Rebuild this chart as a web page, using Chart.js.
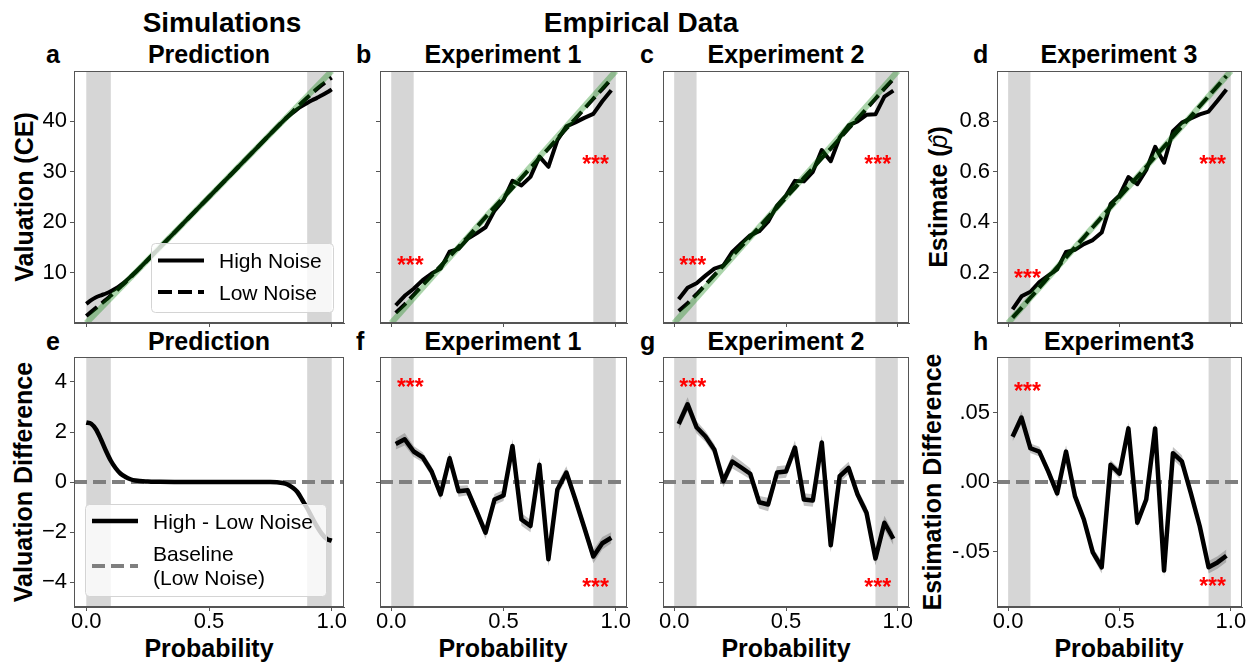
<!DOCTYPE html>
<html>
<head>
<meta charset="utf-8">
<script src="https://cdn.jsdelivr.net/npm/chart.js@4.4.1/dist/chart.umd.min.js"></script>
<style>
  html,body{margin:0;padding:0;background:#fff;}
  #root{position:relative;width:1256px;height:664px;overflow:hidden;background:#fff;}
  canvas{position:absolute;}
  .t{position:absolute;line-height:1;white-space:nowrap;font-family:'Liberation Sans',Arial,Helvetica,sans-serif;font-weight:bold;color:#000;}
  .c{transform:translateX(-50%);}
  .r{transform:translate(-50%,-50%) rotate(-90deg);}
</style>
</head>
<body>
<div id="root">
  <div class="t c" style="left:222px;top:9px;font-size:28px;">Simulations</div>
  <div class="t c" style="left:641px;top:9px;font-size:28px;">Empirical Data</div>

  <div class="t c" style="left:209px;top:42px;font-size:25px;">Prediction</div>
  <div class="t c" style="left:503px;top:42px;font-size:25px;">Experiment 1</div>
  <div class="t c" style="left:786px;top:42px;font-size:25px;">Experiment 2</div>
  <div class="t c" style="left:1119px;top:42px;font-size:25px;">Experiment 3</div>
  <div class="t" style="left:46px;top:42px;font-size:25px;">a</div>
  <div class="t" style="left:356px;top:42px;font-size:25px;">b</div>
  <div class="t" style="left:640px;top:42px;font-size:25px;">c</div>
  <div class="t" style="left:973px;top:42px;font-size:25px;">d</div>

  <div class="t c" style="left:209px;top:329px;font-size:25px;">Prediction</div>
  <div class="t c" style="left:503px;top:329px;font-size:25px;">Experiment 1</div>
  <div class="t c" style="left:786px;top:329px;font-size:25px;">Experiment 2</div>
  <div class="t c" style="left:1119px;top:329px;font-size:25px;">Experiment3</div>
  <div class="t" style="left:46px;top:329px;font-size:25px;">e</div>
  <div class="t" style="left:356px;top:329px;font-size:25px;">f</div>
  <div class="t" style="left:640px;top:329px;font-size:25px;">g</div>
  <div class="t" style="left:973px;top:329px;font-size:25px;">h</div>

  <div class="t r" style="left:24px;top:197px;font-size:25px;">Valuation (CE)</div>
  <div class="t r" style="left:938px;top:197px;font-size:25px;">Estimate (<span style="font-style:italic;font-weight:normal;">p&#x0302;</span>)</div>
  <div class="t r" style="left:23px;top:482px;font-size:25px;">Valuation Difference</div>
  <div class="t r" style="left:932px;top:482px;font-size:25px;">Estimation Difference</div>

  <div class="t c" style="left:209px;top:636px;font-size:25px;">Probability</div>
  <div class="t c" style="left:503px;top:636px;font-size:25px;">Probability</div>
  <div class="t c" style="left:786px;top:636px;font-size:25px;">Probability</div>
  <div class="t c" style="left:1119px;top:636px;font-size:25px;">Probability</div>
</div>
<script>
// ---------------- DATA ----------------
const probs = [0.02,0.06,0.10,0.14,0.18,0.22,0.26,0.30,0.34,0.38,0.42,0.46,0.50,0.54,0.58,0.62,0.66,0.70,0.74,0.78,0.82,0.86,0.90,0.94,0.98];

const xTicks = [0, 0.5, 1];
const xTickLabels = ['0.0', '0.5', '1.0'];
const ceTicks = [10, 20, 30, 40];
const ceTickLabels = ['10', '20', '30', '40'];
const estTicks = [0.2, 0.4, 0.6, 0.8];
const estTickLabels = ['0.2', '0.4', '0.6', '0.8'];
const diffTicks = [4, 2, 0, -2, -4];
const diffTickLabels = ['4', '2', '0', '\u22122', '\u22124'];
const estDiffTicks = [0.05, 0, -0.05];
const estDiffTickLabels = ['.05', '.00', '-.05'];

const shadeRanges = [[0, 0.1], [0.9, 1.0]];

// Simulation (panel a, e)
const simX = [0,0.02,0.04,0.06,0.08,0.10,0.12,0.14,0.16,0.18,0.20,0.30,0.40,0.50,0.60,0.70,0.80,0.82,0.84,0.86,0.88,0.90,0.92,0.94,0.96,0.98,1.0];
const simLowNoise  = [1.4,2.2,3.0,3.8,4.6,5.45,6.3,7.2,8.1,9.05,10.0,15.0,20.0,25.0,30.0,35.0,40.0,40.95,41.9,42.85,43.8,44.7,45.6,46.45,47.25,48.0,48.7];
const simHighNoise = [3.78,4.53,5.1,5.5,5.85,6.3,6.85,7.53,8.3,9.16,10.06,15.01,20.0,25.0,30.0,35.0,39.96,40.85,41.68,42.45,43.08,43.65,44.18,44.67,45.17,45.72,46.35];
const simDiffX = [0,0.02,0.04,0.06,0.08,0.10,0.12,0.14,0.16,0.18,0.20,0.25,0.30,0.40,0.50,0.60,0.70,0.75,0.80,0.82,0.84,0.86,0.88,0.90,0.92,0.94,0.96,0.98,1.0];
const simDiff  = [2.38,2.33,2.1,1.7,1.25,0.85,0.55,0.33,0.2,0.11,0.06,0.02,0.01,0,0,0,0,0,-0.04,-0.1,-0.22,-0.4,-0.72,-1.05,-1.42,-1.78,-2.08,-2.28,-2.35];

// Experiments (panels b, c, d)
const exp1Low  = [2.0,3.7,5.6,7.5,9.4,11.3,13.2,15.1,17.0,19.0,21.0,23.0,24.9,26.8,28.8,30.8,32.7,34.6,36.6,38.6,40.5,42.5,44.5,46.4,48.4];
const exp1High = [3.5,5.4,6.8,8.5,9.8,10.8,14.15,14.7,16.7,17.8,19.0,22.3,24.4,28.2,27.3,29.0,33.0,31.0,36.3,39.0,39.8,40.7,41.5,44.0,46.2];
const exp2Low  = [2.4,3.9,5.7,7.6,9.5,11.4,13.3,15.2,17.1,19.0,21.0,22.9,24.9,26.8,28.8,30.7,32.7,34.6,36.6,38.6,40.5,42.5,44.5,46.5,48.4];
const exp2High = [4.7,7.0,7.9,9.4,10.8,11.4,14.1,15.8,17.4,18.2,20.1,23.3,25.3,28.2,28.1,30.0,34.3,32.1,36.8,39.2,40.0,41.3,41.4,44.9,46.1];
const exp3Low  = [0.021,0.060,0.100,0.140,0.181,0.221,0.260,0.300,0.340,0.380,0.420,0.460,0.500,0.540,0.580,0.620,0.660,0.700,0.740,0.780,0.820,0.860,0.900,0.940,0.980];
const exp3High = [0.054,0.106,0.124,0.162,0.188,0.213,0.282,0.290,0.313,0.329,0.359,0.472,0.506,0.579,0.551,0.607,0.699,0.636,0.761,0.795,0.812,0.828,0.839,0.882,0.927];

// Differences (panels f, g, h) and their standard errors
const exp1Diff = [1.52,1.71,1.22,0.99,0.42,-0.5,0.95,-0.37,-0.33,-1.17,-2.03,-0.70,-0.54,1.44,-1.50,-1.76,0.69,-3.09,-0.30,0.38,-0.70,-1.83,-2.98,-2.45,-2.23];
const exp1Sem  = [0.22,0.25,0.22,0.2,0.2,0.22,0.25,0.22,0.2,0.22,0.25,0.22,0.22,0.27,0.25,0.25,0.28,0.28,0.25,0.25,0.22,0.25,0.27,0.25,0.22];
const exp2Diff = [2.32,3.11,2.19,1.82,1.29,0.03,0.82,0.58,0.33,-0.81,-0.90,0.38,0.42,1.38,-0.70,-0.74,1.58,-2.53,0.23,0.56,-0.50,-1.23,-3.06,-1.63,-2.27];
const exp2Sem  = [0.24,0.28,0.25,0.22,0.22,0.24,0.28,0.25,0.22,0.25,0.27,0.25,0.25,0.28,0.25,0.25,0.29,0.29,0.25,0.25,0.22,0.25,0.28,0.28,0.25];
const exp3Diff = [0.0326,0.0464,0.0243,0.0219,0.0076,-0.0083,0.0219,-0.0102,-0.027,-0.0507,-0.0614,0.0124,0.006,0.0386,-0.0293,-0.0126,0.0386,-0.0638,0.0207,0.0148,-0.0079,-0.0317,-0.0614,-0.0579,-0.0531];
const exp3Sem  = [0.0035,0.0045,0.0035,0.0035,0.0035,0.0035,0.0045,0.0035,0.0035,0.0035,0.0045,0.0035,0.0035,0.0045,0.0035,0.0035,0.0045,0.0045,0.0045,0.0045,0.0035,0.0035,0.0045,0.0045,0.0045];

// Identity (reference) lines and zero baseline
const identityX = [0, 1];
const identityCE = [0, 50];
const identityP = [0, 1];
const baselineX = [-0.05, 1.05];
const baselineY = [0, 0];

// Significance markers [x, y]
const starsExp1Top = [[0.085, 12.5], [0.91, 32.5]];
const starsExp2Top = [[0.083, 12.5], [0.91, 32.5]];
const starsExp3Top = [[0.087, 0.2], [0.918, 0.65]];
const starsExp1Diff = [[0.085, 4.0], [0.91, -4.0]];
const starsExp2Diff = [[0.083, 4.0], [0.91, -4.0]];
const starsExp3Diff = [[0.087, 0.0695], [0.918, -0.071]];
const starText = '***';

const simLegendLabels = ['High Noise', 'Low Noise'];
const diffLegendLabels = ['High - Low Noise', 'Baseline', '(Low Noise)'];

// ---------------- RENDERING ----------------
const FONT = "'Liberation Sans', Arial, Helvetica, sans-serif";
Chart.defaults.font.family = FONT;
Chart.defaults.animation = false;

const SPINE = '#555555';
const GREEN = 'rgba(0,128,0,0.33)';
const SHADE = '#d6d6d6';
const BASEGREY = '#7f7f7f';

function pts(xs, ys) { return xs.map((x, i) => ({x: x, y: ys[i]})); }
function line(data, color, width, dash, extra) {
  return Object.assign({data, borderColor: color, backgroundColor: color, borderWidth: width,
    borderDash: dash || [], pointRadius: 0, pointHoverRadius: 0, showLine: true, fill: false,
    tension: 0, clip: 0, borderJoinStyle: 'round', borderCapStyle: 'butt'}, extra || {});
}

const deco = {
  id: 'deco',
  beforeDatasetsDraw(chart) {
    const a = chart.chartArea; const ctx = chart.ctx; const xs = chart.scales.x;
    ctx.save();
    ctx.fillStyle = SHADE;
    shadeRanges.forEach(r => {
      const x0 = xs.getPixelForValue(r[0]), x1 = xs.getPixelForValue(r[1]);
      ctx.fillRect(x0, a.top, x1 - x0, a.bottom - a.top);
    });
    ctx.restore();
  },
  afterDatasetsDraw(chart) {
    const o = chart.options.plugins.deco; const a = chart.chartArea; const ctx = chart.ctx;
    const xs = chart.scales.x, ys = chart.scales.y;
    ctx.save();
    if (o.stars) {
      ctx.fillStyle = '#ff0000';
      ctx.font = 'bold 23px ' + FONT;
      ctx.textAlign = 'center';
      ctx.textBaseline = 'alphabetic';
      o.stars.forEach(s => {
        ctx.fillText(starText, xs.getPixelForValue(s[0]), ys.getPixelForValue(s[1]) + 0.575 * 23);
      });
    }
    ctx.strokeStyle = SPINE; ctx.lineWidth = 1;
    ctx.strokeRect(Math.round(a.left) + 0.5, Math.round(a.top) + 0.5, Math.round(a.right - a.left) - 1, Math.round(a.bottom - a.top) - 1);
    const lg = o.legend;
    if (lg) {
      const x0 = lg.anchor === 'right' ? a.right - lg.offX - lg.w : a.left + lg.offX;
      const y0 = a.bottom - lg.offY - lg.h;
      ctx.beginPath();
      ctx.roundRect(x0 + 0.5, y0 + 0.5, lg.w, lg.h, 4);
      ctx.fillStyle = 'rgba(255,255,255,0.8)'; ctx.fill();
      ctx.strokeStyle = '#d4d4d4'; ctx.lineWidth = 1; ctx.stroke();
      ctx.font = '21px ' + FONT; ctx.fillStyle = '#000'; ctx.textAlign = 'left'; ctx.textBaseline = 'alphabetic';
      lg.items.forEach(it => {
        ctx.beginPath();
        ctx.setLineDash(it.dash || []);
        ctx.strokeStyle = it.color; ctx.lineWidth = it.width; ctx.lineCap = 'butt';
        ctx.moveTo(x0 + 7, y0 + it.y); ctx.lineTo(x0 + 53, y0 + it.y); ctx.stroke();
        ctx.setLineDash([]);
        ctx.fillStyle = '#000';
        it.texts.forEach(t => ctx.fillText(t[0], x0 + 68, y0 + t[1] + 7.5));
      });
    }
    ctx.restore();
  }
};

function panel(opt) {
  const [L, R] = opt.cols, [T, B] = opt.rows;
  const yW = 70, padT = 16, padR = 20, padB = 16, xH = opt.xH;
  const w = (R - L) + yW + padR, h = (B - T) + padT + xH + padB;
  const c = document.createElement('canvas');
  c.width = w; c.height = h;
  c.style.left = (L - yW) + 'px'; c.style.top = (T - padT) + 'px';
  c.style.width = w + 'px'; c.style.height = h + 'px';
  document.getElementById('root').appendChild(c);
  const tickFont = {family: FONT, size: 22, lineHeight: 1};
  new Chart(c, {
    type: 'scatter',
    data: {datasets: opt.datasets},
    plugins: [deco],
    options: {
      responsive: false, devicePixelRatio: 1, animation: false,
      layout: {padding: {top: padT, right: padR, left: 0, bottom: padB}},
      plugins: {legend: {display: false}, tooltip: {enabled: false},
        deco: {stars: opt.stars, legend: opt.legend}},
      events: [],
      scales: {
        x: {
          type: 'linear', min: -0.05, max: 1.05,
          afterBuildTicks: s => { s.ticks = xTicks.map(v => ({value: v})); },
          afterFit: s => { s.height = xH; },
          ticks: {display: opt.showX, callback: (v, i) => xTickLabels[i], font: tickFont, color: '#000', padding: 0, maxRotation: 0, autoSkip: false},
          grid: {display: true, drawOnChartArea: false, drawTicks: true, tickLength: 4, color: SPINE, lineWidth: 1},
          border: {display: true, color: SPINE, width: 1}
        },
        y: {
          type: 'linear', min: opt.yMin, max: opt.yMax,
          afterBuildTicks: s => { s.ticks = opt.yTicks.map(v => ({value: v})); },
          afterFit: s => { s.width = yW; },
          ticks: {display: opt.showY, callback: (v, i) => opt.yLabels[i], font: tickFont, color: '#000', padding: 3, autoSkip: false},
          grid: {display: true, drawOnChartArea: false, drawTicks: true, tickLength: 4, color: SPINE, lineWidth: 1},
          border: {display: true, color: SPINE, width: 1}
        }
      }
    }
  });
}

const COLS = [[74, 344], [380, 627], [663, 909], [997, 1242]];
const ROWS = [[71, 323], [357, 607]];

function topSets(lowX, low, highX, high, idY, smooth) {
  const ex = smooth ? {tension: 0.4, cubicInterpolationMode: 'monotone'} : {};
  return [
    line(pts(identityX, idY), GREEN, 6, []),
    line(pts(highX, high), '#000', 4, [], ex),
    line(pts(lowX, low), '#000', 4, [14, 6], ex)
  ];
}
function diffSets(xs, ys, sem, smooth) {
  const ex = smooth ? {tension: 0.4, cubicInterpolationMode: 'monotone'} : {};
  const sets = [line(pts(xs, ys), '#000', 4.5, [], ex), line(pts(baselineX, baselineY), BASEGREY, 4, [13, 6])];
  if (sem) {
    sets.push(line(pts(xs, ys.map((v, i) => v + sem[i])), 'rgba(0,0,0,0)', 0, [], {fill: '+1', backgroundColor: 'rgba(110,110,110,0.42)'}));
    sets.push(line(pts(xs, ys.map((v, i) => v - sem[i])), 'rgba(0,0,0,0)', 0, []));
  }
  return sets;
}

const simLegend = {anchor: 'right', offX: 11, offY: 11, w: 182, h: 69, items: [
  {color: '#000', width: 4, dash: [], y: 17.5, texts: [[simLegendLabels[0], 17.5]]},
  {color: '#000', width: 4, dash: [14, 6], y: 49, texts: [[simLegendLabels[1], 49]]}
]};
const diffLegend = {anchor: 'left', offX: 11, offY: 11, w: 241, h: 92, items: [
  {color: '#000', width: 4.5, dash: [], y: 17, texts: [[diffLegendLabels[0], 17]]},
  {color: BASEGREY, width: 4, dash: [13, 6], y: 62, texts: [[diffLegendLabels[1], 49.5], [diffLegendLabels[2], 73]]}
]};

// Top row
panel({cols: COLS[0], rows: ROWS[0], xH: 8, showX: false, showY: true, yMin: 0, yMax: 50, yTicks: ceTicks, yLabels: ceTickLabels,
  datasets: topSets(simX, simLowNoise, simX, simHighNoise, identityCE, true), legend: simLegend});
panel({cols: COLS[1], rows: ROWS[0], xH: 8, showX: false, showY: false, yMin: 0, yMax: 50, yTicks: ceTicks, yLabels: ceTickLabels,
  datasets: topSets(probs, exp1Low, probs, exp1High, identityCE, false), stars: starsExp1Top});
panel({cols: COLS[2], rows: ROWS[0], xH: 8, showX: false, showY: false, yMin: 0, yMax: 50, yTicks: ceTicks, yLabels: ceTickLabels,
  datasets: topSets(probs, exp2Low, probs, exp2High, identityCE, false), stars: starsExp2Top});
panel({cols: COLS[3], rows: ROWS[0], xH: 8, showX: false, showY: true, yMin: 0, yMax: 1, yTicks: estTicks, yLabels: estTickLabels,
  datasets: topSets(probs, exp3Low, probs, exp3High, identityP, false), stars: starsExp3Top});

// Bottom row
panel({cols: COLS[0], rows: ROWS[1], xH: 40, showX: true, showY: true, yMin: -5, yMax: 5, yTicks: diffTicks, yLabels: diffTickLabels,
  datasets: diffSets(simDiffX, simDiff, null, true), legend: diffLegend});
panel({cols: COLS[1], rows: ROWS[1], xH: 40, showX: true, showY: false, yMin: -5, yMax: 5, yTicks: diffTicks, yLabels: diffTickLabels,
  datasets: diffSets(probs, exp1Diff, exp1Sem, false), stars: starsExp1Diff});
panel({cols: COLS[2], rows: ROWS[1], xH: 40, showX: true, showY: false, yMin: -5, yMax: 5, yTicks: diffTicks, yLabels: diffTickLabels,
  datasets: diffSets(probs, exp2Diff, exp2Sem, false), stars: starsExp2Diff});
panel({cols: COLS[3], rows: ROWS[1], xH: 40, showX: true, showY: true, yMin: -0.09, yMax: 0.09, yTicks: estDiffTicks, yLabels: estDiffTickLabels,
  datasets: diffSets(probs, exp3Diff, exp3Sem, false), stars: starsExp3Diff});
</script>
</body>
</html>
